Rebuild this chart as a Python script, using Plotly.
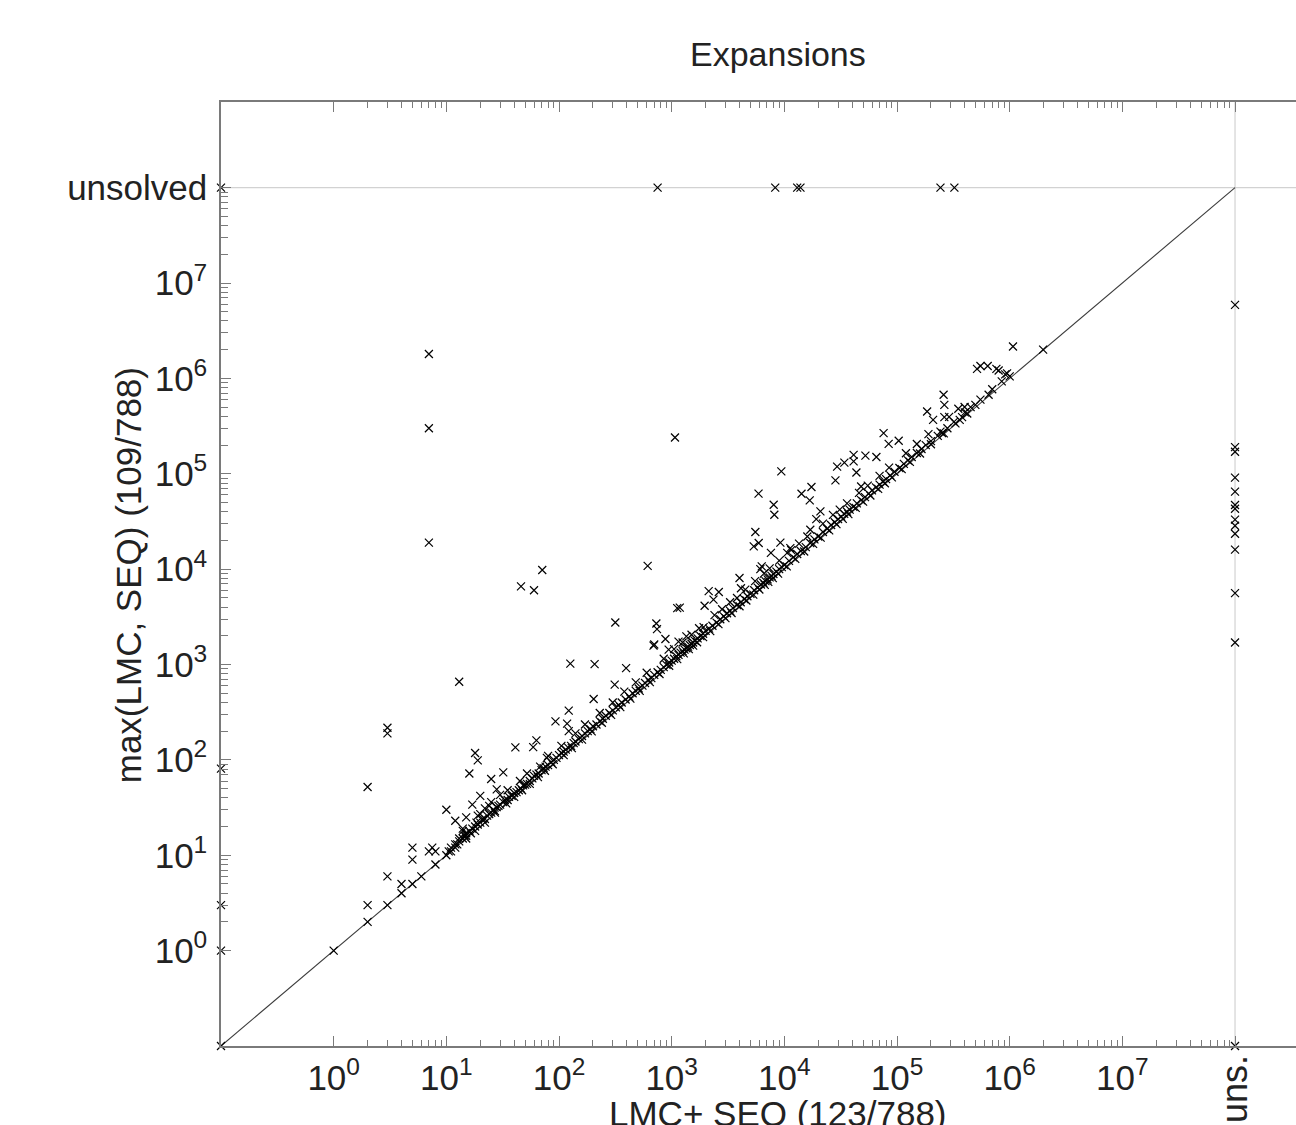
import plotly.graph_objects as go

# Expansions: x = LMC+ SEQ, y = max(LMC, SEQ); 0.1 stands for 0, 1e8 stands for "unsolved"
left_col_x = [0.1, 0.1, 0.1, 0.1, 0.1]
left_col_y = [1e8, 81, 3, 1, 0.1]

top_row_x = [750, 8300, 13000, 13900, 243000, 323000]
top_row_y = [1e8, 1e8, 1e8, 1e8, 1e8, 1e8]

right_col_x = [1e8] * 14
right_col_y = [5.9e6, 1.9e5, 1.7e5, 9.1e4, 6.5e4, 4.7e4, 4.3e4, 3.3e4, 2.85e4, 2.35e4,
               1.6e4, 5.6e3, 1.7e3, 0.1]

off_x = [1, 2, 2, 2, 3, 3, 3, 3, 4, 4, 5, 5, 5, 6, 7, 7.5, 8, 8, 7, 7, 7, 10, 11, 12, 13, 13,
         14, 15, 15, 16, 18, 19, 17, 19, 20, 22, 25, 25, 28, 32, 30, 41, 46, 60, 71, 59, 63, 68,
         78, 93, 118, 122, 122, 126, 207, 316, 394, 312, 203, 612, 731, 741, 690, 700, 880, 940,
         1070, 1120, 1180, 1350, 1150, 1960, 2130, 2350, 2620, 4000, 4120, 3800, 1920, 5350,
         5920, 9220, 6300, 6120, 7600, 10600, 11300, 5900, 9400, 5530, 8040, 8150, 14200, 17400,
         16800, 20900, 19200, 17000, 28400, 29400, 34100, 41200, 41200, 52400, 65600, 43600,
         48000, 76000, 84300, 103500, 185000, 209000, 259000, 263000, 263000, 398000, 496000,
         360000, 378000, 243000, 251000, 513000, 550000, 638000, 762000, 798000, 912000,
         1000000, 650000, 1070000, 1980000, 948000]
off_y = [1, 2, 3, 52, 3, 6, 217, 190, 4, 5, 5, 9, 12, 6, 11, 12, 11, 8, 1.8e6, 3e5, 1.9e4, 30,
         11, 23, 14, 660, 18, 16, 25, 72, 118, 99, 34, 26, 42, 31, 36, 63, 49, 74, 43, 135, 6600,
         6000, 9800, 136, 160, 85, 105, 253, 240, 200, 328, 1020, 1010, 2760, 918, 615, 435,
         10800, 2690, 2350, 1580, 1620, 1850, 1430, 2.4e5, 3900, 3950, 1970, 1740, 4130, 5870,
         4790, 5760, 8070, 6310, 4980, 2470, 17300, 18800, 19000, 10700, 10000, 14800, 14800,
         16600, 62000, 106000, 24500, 47300, 37200, 61700, 72600, 52500, 40300, 33500, 25900,
         85100, 119000, 131000, 158000, 135000, 155000, 150000, 103000, 73600, 267000, 206000,
         222000, 450000, 368000, 673000, 528000, 393000, 501000, 528000, 368000, 393000, 277000,
         267000, 1.26e6, 1.35e6, 1.35e6, 1.26e6, 1.21e6, 1.1e6, 1.05e6, 673000, 2.16e6, 2.0e6,
         1.13e6]

diag_x = [10, 10.5, 11, 12, 12.5, 13, 14, 14.5, 15, 16, 16.5, 17, 18, 18.5, 19, 20, 21, 22, 23,
          24, 25, 26, 27, 28, 29, 30, 32, 33, 35, 36, 38, 40, 42, 44, 46, 48, 50, 52, 55, 58, 60,
          63, 66, 70, 73, 76, 80, 85, 90, 95,
          100, 105, 110, 115, 120, 128, 135, 140, 150, 160, 170, 180, 190, 200, 215, 230, 245,
          260, 280, 300, 320, 340, 360, 390, 420, 450, 480, 510, 550, 580, 620, 660, 700, 750,
          800, 850, 900, 950,
          1000, 1050, 1100, 1150, 1200, 1250, 1300, 1350, 1400, 1450, 1500, 1550, 1600, 1700,
          1800, 1900, 2000, 2150, 2300, 2500, 2700, 2900, 3100, 3300, 3500, 3800, 4100, 4400,
          4700, 5000, 5400, 5800, 6200, 6500, 6800, 7100, 7400, 7700, 8000, 8500, 9000, 9500,
          10000, 11000, 12000, 13000, 14000, 15500, 17000, 18500, 20000, 22000, 24000, 26000,
          28000, 30000, 32000, 34000, 36000, 38000, 41000, 44000, 48000, 52000, 56000, 60000,
          65000, 70000, 75000, 80000, 87000, 95000,
          105000, 115000, 125000, 135000, 150000, 165000, 180000, 200000, 230000, 280000,
          320000, 400000, 450000, 550000, 700000, 850000]
diag_y = [10, 11, 12, 13, 13, 15, 15, 16, 17, 18, 17, 19, 20, 22, 21, 22, 24, 24, 26,
          27, 28, 30, 29, 32, 33, 34, 36, 38, 38, 41, 42, 45, 46, 48, 50, 54, 55, 56, 60, 64, 68,
          70, 72, 78, 82, 85, 88, 95, 100, 105,
          112, 118, 122, 128, 135, 140, 150, 156, 165, 178, 190, 200, 210, 225, 235, 255, 270,
          290, 310, 330, 355, 375, 400, 430, 460, 500, 530, 560, 600, 640, 690, 720, 780, 830,
          880, 940, 990, 1050,
          1100, 1150, 1220, 1260, 1330, 1380, 1430, 1480, 1540, 1600, 1650, 1700, 1780, 1880,
          1990, 2100, 2250, 2380, 2550, 2750, 2980, 3200, 3450, 3650, 3900, 4200, 4500, 4850,
          5200, 5500, 6000, 6400, 6900, 7200, 7500, 7800, 8200, 8500, 8900, 9400, 10000, 10500,
          11000, 12200, 13300, 14400, 15500, 17000, 18800, 20500, 22000, 24500, 26500, 29000,
          31000, 33500, 35500, 38000, 40000, 42000, 45000, 49000, 53000, 57000, 62000, 67000,
          72000, 77000, 83000, 88000, 96000, 105000,
          115000, 127000, 138000, 150000, 165000, 182000, 200000, 220000, 250000, 300000,
          350000, 440000, 500000, 600000, 770000, 930000]

near_x = [12, 15, 18, 22, 27, 34, 40, 47, 55, 65, 75, 88, 110, 130, 160, 195, 240, 290, 350,
          430, 520, 640, 780, 950, 1120, 1280, 1420, 1550, 1680, 1900, 2200, 2600, 3000, 3400,
          4000, 4600, 5300, 6000, 6700, 7200, 7900, 8800, 10500, 12500, 15000, 18000, 21000,
          25000, 29000, 33000, 37000, 43000, 50000, 58000, 68000, 78000, 90000, 110000, 130000,
          160000, 200000, 260000, 330000, 420000]
near_y = [12, 15, 18, 22, 28, 35, 41, 48, 56, 66, 77, 90, 112, 133, 163, 199, 245, 296, 357,
          439, 530, 653, 796, 970, 1140, 1310, 1450, 1580, 1710, 1940, 2240, 2650, 3060, 3470,
          4080, 4690, 5400, 6120, 6830, 7340, 8060, 8980, 10700, 12800, 15300, 18400, 21400,
          25500, 29600, 33700, 37700, 43900, 51000, 59200, 69400, 79600, 91800, 112000, 133000,
          163000, 204000, 265000, 337000, 428000]

above_x = [14, 20, 24, 35, 45, 52, 80, 105, 140, 170, 230, 300, 380, 480, 600, 850, 1050, 1250,
           1500, 1750, 2400, 2800, 3300, 4500, 5500, 6600, 7400, 9000, 11500, 13500, 16000,
           22000, 27000, 31000, 36000, 46000, 55000, 70000, 85000, 120000, 150000, 190000,
           290000, 350000]
above_y = [19, 27, 33, 48, 60, 72, 110, 140, 190, 235, 310, 400, 520, 650, 820, 1150, 1450,
           1700, 2050, 2400, 3300, 3800, 4500, 6100, 7500, 9000, 10200, 12300, 15800, 18500,
           22000, 30000, 37000, 42000, 49000, 63000, 75000, 95000, 116000, 164000, 205000,
           260000, 395000, 480000]

xs = left_col_x + top_row_x + right_col_x + off_x + diag_x + near_x + above_x
ys = left_col_y + top_row_y + right_col_y + off_y + diag_y + near_y + above_y

major_vals = [1, 1e1, 1e2, 1e3, 1e4, 1e5, 1e6, 1e7, 1e8]
major_text_x = ['10<sup>0</sup>', '10<sup>1</sup>', '10<sup>2</sup>', '10<sup>3</sup>',
                '10<sup>4</sup>', '10<sup>5</sup>', '10<sup>6</sup>', '10<sup>7</sup>', '']
major_text_y = ['10<sup>0</sup>', '10<sup>1</sup>', '10<sup>2</sup>', '10<sup>3</sup>',
                '10<sup>4</sup>', '10<sup>5</sup>', '10<sup>6</sup>', '10<sup>7</sup>', 'unsolved']
minor_vals = [m * 10 ** e for e in range(0, 8) for m in range(2, 10)]

AX = '#7a7a7a'
FONT = 'Liberation Sans, Arial, Helvetica, sans-serif'
TXT = '#222222'

# page body margin is removed (post_script), so figure pixels == screen pixels
W, H = 1296, 1125
ML, MT, MB = 221, 101.5, 79
PH = H - MT - MB
XMAX = -1 + (W - ML) / 112.67

fig = go.Figure()
# reference lines for "unsolved"
fig.add_trace(go.Scatter(x=[1e8, 1e8], y=[1e-3, 1e10], mode='lines',
                         line=dict(color='#d2d2d2', width=1.2), hoverinfo='skip'))
fig.add_trace(go.Scatter(x=[1e-3, 1e10], y=[1e8, 1e8], mode='lines',
                         line=dict(color='#d2d2d2', width=1.2), hoverinfo='skip'))
# diagonal
fig.add_trace(go.Scatter(x=[0.1, 1e8], y=[0.1, 1e8], mode='lines',
                         line=dict(color='#3a3a3a', width=1.1), hoverinfo='skip'))
fig.add_trace(go.Scatter(x=xs, y=ys, mode='markers', cliponaxis=False,
                         marker=dict(symbol='x-thin', size=8, color='black',
                                     line=dict(width=1.2, color='black'))))

fig.update_layout(
    width=W, height=H,
    margin=dict(l=ML, r=0, t=MT, b=MB, pad=0),
    paper_bgcolor='white', plot_bgcolor='white',
    showlegend=False,
    font=dict(family=FONT, size=35, color=TXT),
)
fig.update_xaxes(type='log', range=[-1, XMAX], showgrid=False, zeroline=False,
                 showline=True, linecolor=AX, linewidth=1.5, mirror='ticks',
                 ticks='inside', ticklen=10, tickcolor=AX, tickwidth=1,
                 tickmode='array', tickvals=major_vals, ticktext=major_text_x,
                 tickfont=dict(family=FONT, size=35, color=TXT),
                 minor=dict(tickmode='array', tickvals=minor_vals, ticks='inside',
                            ticklen=6, tickcolor=AX, tickwidth=1, showgrid=False))
fig.update_yaxes(type='log', range=[-1, 8.898], showgrid=False, zeroline=False,
                 showline=True, linecolor=AX, linewidth=1.5, mirror=False,
                 ticks='inside', ticklen=10, tickcolor=AX, tickwidth=1,
                 tickmode='array', tickvals=major_vals, ticktext=major_text_y,
                 tickfont=dict(family=FONT, size=35, color=TXT), ticklabelstandoff=5,
                 minor=dict(tickmode='array', tickvals=minor_vals, ticks='inside',
                            ticklen=7, tickcolor=AX, tickwidth=1, showgrid=False))

def px_to_paper_y(py_screen):
    return (H - MB - py_screen) / PH

def px_to_paper_x(px_screen):
    return (px_screen - ML) / (W - ML)

fig.add_annotation(text='Expansions', xref='paper', yref='paper', x=px_to_paper_x(778),
                   y=px_to_paper_y(53), xanchor='center', yanchor='middle', showarrow=False,
                   font=dict(family=FONT, size=34, color=TXT))
fig.add_annotation(text='LMC+ SEQ (123/788)', xref='paper', yref='paper', x=px_to_paper_x(778),
                   y=px_to_paper_y(1092), xanchor='center', yanchor='top', showarrow=False,
                   font=dict(family=FONT, size=35, color=TXT))
fig.add_annotation(text='max(LMC, SEQ) (109/788)', xref='paper', yref='paper',
                   x=px_to_paper_x(128), y=px_to_paper_y(575), xanchor='center',
                   yanchor='middle', textangle=-90, showarrow=False,
                   font=dict(family=FONT, size=35, color=TXT))
fig.add_annotation(text='uns.', xref='x', yref='paper', x=8, y=px_to_paper_y(1053),
                   xanchor='center', yanchor='top', textangle=-90, showarrow=False,
                   font=dict(family=FONT, size=36, color=TXT))

fig.write_html('out.html', config={'displayModeBar': False},
               post_script="document.body.style.margin='0';"
                           "document.documentElement.style.overflow='hidden';"
                           "document.body.style.overflow='hidden';")
